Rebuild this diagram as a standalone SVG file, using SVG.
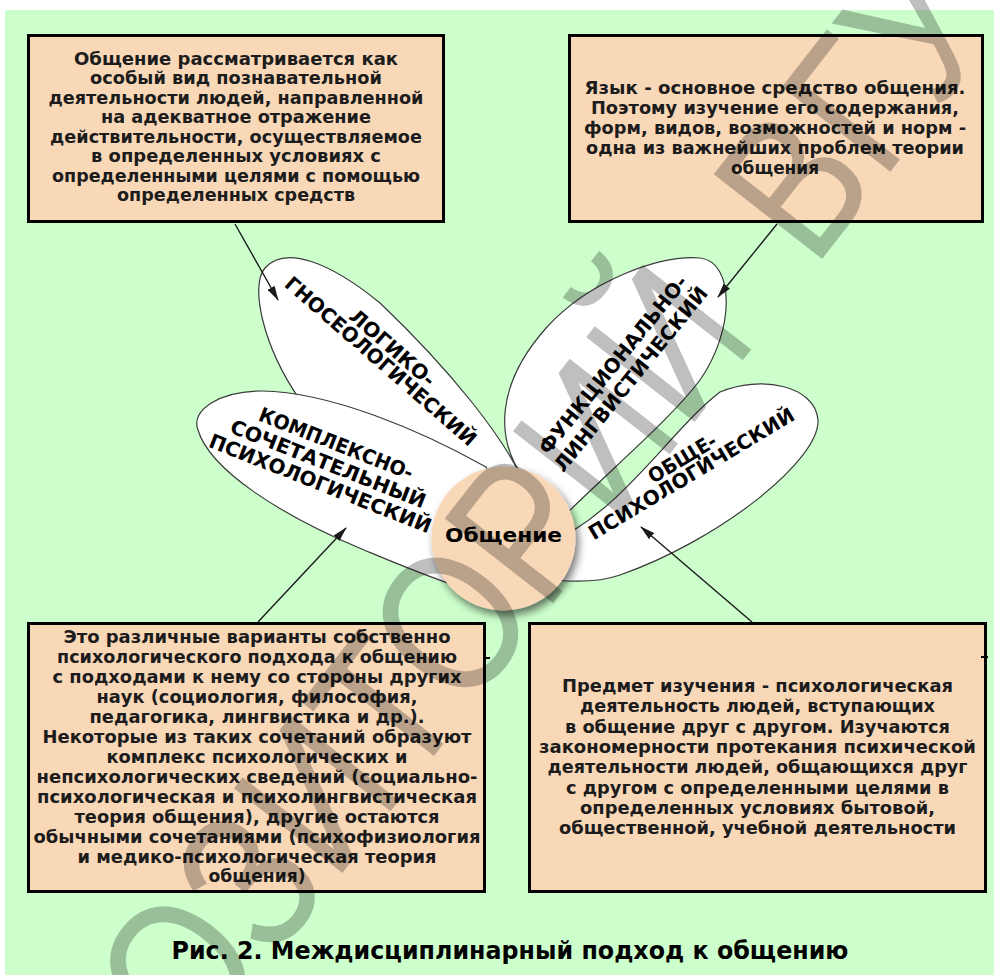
<svg xmlns="http://www.w3.org/2000/svg" width="994" height="975" viewBox="0 0 994 975">
<defs>
<style>
.box{fill:#f9d8b8;stroke:#000;stroke-width:3}
.bt{font-family:"DejaVu Sans","Verdana",sans-serif;font-weight:bold;font-size:17px;fill:#1c1c1c;text-anchor:middle}
.petal{fill:#fff;stroke:#3a3a3a;stroke-width:1.2}
.pt{font-family:"DejaVu Sans","Verdana",sans-serif;font-weight:bold;font-size:20px;fill:#000;text-anchor:middle}
.conn{stroke:#1a1a1a;stroke-width:1.4;fill:none;marker-end:url(#ah)}
.wm{font-family:"Liberation Sans",Arial,sans-serif;font-size:200px;fill:#000;fill-opacity:0.25}
</style>
<marker id="ah" markerUnits="userSpaceOnUse" markerWidth="15" markerHeight="8" refX="14" refY="4" orient="auto">
<path d="M0,0 L15,4 L0,8 Z" fill="#1a1a1a"/>
</marker>
<filter id="sh" x="-30%" y="-30%" width="160%" height="160%">
<feGaussianBlur in="SourceAlpha" stdDeviation="4"/>
<feOffset dx="3" dy="5" result="b"/>
<feComponentTransfer><feFuncA type="linear" slope="0.55"/></feComponentTransfer>
<feMerge><feMergeNode/><feMergeNode in="SourceGraphic"/></feMerge>
</filter>
</defs>
<rect x="0" y="0" width="994" height="975" fill="#fff"/>
<rect x="5" y="10" width="989" height="965" fill="#ccffcc"/>

<g id="box1">
<rect class="box" x="28.5" y="35.5" width="415" height="186"/>
<text class="bt" x="236" y="64.5" textLength="324" lengthAdjust="spacingAndGlyphs">Общение рассматривается как</text>
<text class="bt" x="236" y="84" textLength="292" lengthAdjust="spacingAndGlyphs">особый вид познавательной</text>
<text class="bt" x="236" y="103.5" textLength="375" lengthAdjust="spacingAndGlyphs">деятельности людей, направленной</text>
<text class="bt" x="236" y="123" textLength="270" lengthAdjust="spacingAndGlyphs">на адекватное отражение</text>
<text class="bt" x="236" y="142.5" textLength="372" lengthAdjust="spacingAndGlyphs">действительности, осуществляемое</text>
<text class="bt" x="236" y="162" textLength="290" lengthAdjust="spacingAndGlyphs">в определенных условиях с</text>
<text class="bt" x="236" y="181.5" textLength="368" lengthAdjust="spacingAndGlyphs">определенными целями с помощью</text>
<text class="bt" x="236" y="201" textLength="238" lengthAdjust="spacingAndGlyphs">определенных средств</text>
</g>

<g id="box2">
<rect class="box" x="569.5" y="35.5" width="413" height="186"/>
<text class="bt" x="775" y="94" textLength="381" lengthAdjust="spacingAndGlyphs">Язык - основное средство общения.</text>
<text class="bt" x="775" y="114" textLength="368" lengthAdjust="spacingAndGlyphs">Поэтому изучение его содержания,</text>
<text class="bt" x="775" y="134" textLength="382" lengthAdjust="spacingAndGlyphs">форм, видов, возможностей и норм -</text>
<text class="bt" x="775" y="154" textLength="378" lengthAdjust="spacingAndGlyphs">одна из важнейших проблем теории</text>
<text class="bt" x="775" y="174" textLength="88" lengthAdjust="spacingAndGlyphs">общения</text>
</g>

<g id="box3">
<rect class="box" x="28.5" y="623.5" width="456" height="268"/>
<text class="bt" x="257" y="643" textLength="387" lengthAdjust="spacingAndGlyphs">Это различные варианты собственно</text>
<text class="bt" x="257" y="663" textLength="400" lengthAdjust="spacingAndGlyphs">психологического подхода к общению</text>
<text class="bt" x="257" y="683" textLength="409" lengthAdjust="spacingAndGlyphs">с подходами к нему со стороны других</text>
<text class="bt" x="257" y="703" textLength="321" lengthAdjust="spacingAndGlyphs">наук (социология, философия,</text>
<text class="bt" x="257" y="723" textLength="335" lengthAdjust="spacingAndGlyphs">педагогика, лингвистика и др.).</text>
<text class="bt" x="257" y="743" textLength="429" lengthAdjust="spacingAndGlyphs">Некоторые из таких сочетаний образуют</text>
<text class="bt" x="257" y="763" textLength="301" lengthAdjust="spacingAndGlyphs">комплекс психологических и</text>
<text class="bt" x="257" y="783" textLength="441" lengthAdjust="spacingAndGlyphs">непсихологических сведений (социально-</text>
<text class="bt" x="257" y="803" textLength="440" lengthAdjust="spacingAndGlyphs">психологическая и психолингвистическая</text>
<text class="bt" x="257" y="823" textLength="365" lengthAdjust="spacingAndGlyphs">теория общения), другие остаются</text>
<text class="bt" x="257" y="843" textLength="447" lengthAdjust="spacingAndGlyphs">обычными сочетаниями (психофизиология</text>
<text class="bt" x="257" y="863" textLength="359" lengthAdjust="spacingAndGlyphs">и медико-психологическая теория</text>
<text class="bt" x="257" y="882" textLength="97" lengthAdjust="spacingAndGlyphs">общения)</text>
<line x1="483" y1="658" x2="490" y2="658" stroke="#000" stroke-width="2"/>
</g>

<g id="box4">
<rect class="box" x="529.5" y="623.5" width="456" height="268"/>
<text class="bt" x="757.5" y="692" textLength="391" lengthAdjust="spacingAndGlyphs">Предмет изучения - психологическая</text>
<text class="bt" x="757.5" y="712.3" textLength="355" lengthAdjust="spacingAndGlyphs">деятельность людей, вступающих</text>
<text class="bt" x="757.5" y="732.6" textLength="385" lengthAdjust="spacingAndGlyphs">в общение друг с другом. Изучаются</text>
<text class="bt" x="757.5" y="752.9" textLength="437" lengthAdjust="spacingAndGlyphs">закономерности протекания психической</text>
<text class="bt" x="757.5" y="773.2" textLength="420" lengthAdjust="spacingAndGlyphs">деятельности людей, общающихся друг</text>
<text class="bt" x="757.5" y="793.5" textLength="383" lengthAdjust="spacingAndGlyphs">с другом с определенными целями в</text>
<text class="bt" x="757.5" y="813.8" textLength="355" lengthAdjust="spacingAndGlyphs">определенных условиях бытовой,</text>
<text class="bt" x="757.5" y="834" textLength="397" lengthAdjust="spacingAndGlyphs">общественной, учебной деятельности</text>
<line x1="981" y1="657" x2="988" y2="657" stroke="#000" stroke-width="2"/>
</g>

<g id="petal-functional">
<path class="petal" d="M525,480 C495,440 495,385 547,327 C590,280 660,255 700,258 C735,262 735,330 700,380 C670,420 610,470 560,520 Z"/>
<g transform="translate(622,372) rotate(-51)">
<text class="pt" x="0" y="-4.6" textLength="223" lengthAdjust="spacingAndGlyphs">ФУНКЦИОНАЛЬНО-</text>
<text class="pt" x="0" y="18.2" textLength="231" lengthAdjust="spacingAndGlyphs">ЛИНГВИСТИЧЕСКИЙ</text>
</g>
</g>

<g id="petal-general">
<path class="petal" d="M545,545 C620,515 670,430 720,392 C760,375 815,385 818,420 C820,460 720,540 620,575 C600,582 575,582 555,580 Z"/>
<g transform="translate(687,466.5) rotate(-31)">
<text class="pt" x="0" y="-2.3" textLength="76" lengthAdjust="spacingAndGlyphs">ОБЩЕ-</text>
<text class="pt" x="0" y="15.5" textLength="236" lengthAdjust="spacingAndGlyphs">ПСИХОЛОГИЧЕСКИЙ</text>
</g>
</g>

<g id="petal-logical">
<path class="petal" d="M530,500 C515,445 440,360 380,303 C330,262 285,245 265,268 C250,285 262,345 300,400 C340,455 440,500 500,540 Z"/>
<g transform="translate(386,355) rotate(41)">
<text class="pt" x="0" y="-2.7" textLength="106" lengthAdjust="spacingAndGlyphs">ЛОГИКО-</text>
<text class="pt" x="0" y="15.1" textLength="246" lengthAdjust="spacingAndGlyphs">ГНОСЕОЛОГИЧЕСКИЙ</text>
</g>
</g>

<g id="petal-complex">
<path class="petal" d="M486,467 C420,430 330,392 262,391 C220,391 190,410 198,430 C210,470 280,515 364,550 C400,565 440,582 470,590 L520,560 Z"/>
<g transform="translate(328,464) rotate(21.5)">
<text class="pt" x="0" y="-15" textLength="164" lengthAdjust="spacingAndGlyphs">КОМПЛЕКСНО-</text>
<text class="pt" x="0" y="6.8" textLength="208" lengthAdjust="spacingAndGlyphs">СОЧЕТАТЕЛЬНЫЙ</text>
<text class="pt" x="0" y="28" textLength="237" lengthAdjust="spacingAndGlyphs">ПСИХОЛОГИЧЕСКИЙ</text>
</g>
</g>

<g id="center">
<circle cx="503.5" cy="538.5" r="72" fill="#f9d8b8" filter="url(#sh)"/>
<text x="503.5" y="542" font-family="DejaVu Sans, Verdana, sans-serif" font-weight="bold" font-size="20" text-anchor="middle" textLength="117" lengthAdjust="spacingAndGlyphs" fill="#000">Общение</text>
</g>

<g id="connectors">
<line class="conn" x1="235" y1="224" x2="278" y2="300"/>
<line class="conn" x1="777" y1="224" x2="718" y2="297"/>
<line class="conn" x1="258" y1="622" x2="346" y2="528"/>
<line class="conn" x1="752" y1="622" x2="641" y2="527"/>
</g>

<g id="caption">
<text x="510" y="959" font-family="DejaVu Sans, Verdana, sans-serif" font-weight="bold" font-size="24" text-anchor="middle" textLength="677" lengthAdjust="spacingAndGlyphs" fill="#000">Рис. 2. Междисциплинарный подход к общению</text>
</g>

<g id="watermark">
<text class="wm" x="0" y="0" transform="translate(-17,1333) rotate(-52) scale(0.83,1)">РЕПОЗИТОРИЙ<tspan dx="50"> ВГУ</tspan></text>
</g>
</svg>
